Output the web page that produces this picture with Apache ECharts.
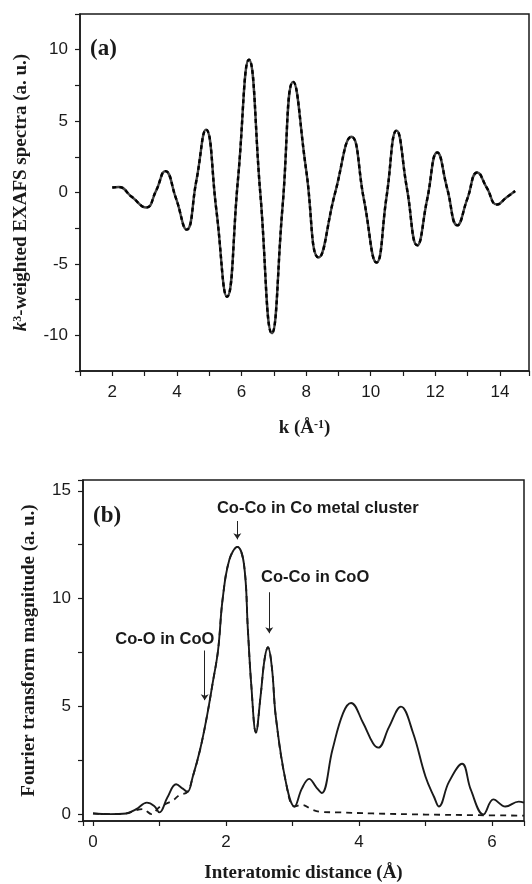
<!DOCTYPE html>
<html>
<head>
<meta charset="utf-8">
<script src="https://cdn.jsdelivr.net/npm/echarts@6/dist/echarts.min.js"></script>
<style>
  html, body { margin: 0; padding: 0; background: #fff; }
  #chart { width: 532px; height: 884px; }
</style>
</head>
<body>
<div id="chart"></div>
<script>
// (a) k3-weighted EXAFS, k in 1/A
const kA = [2.0, 2.2, 2.6, 3.05, 3.35, 3.64, 3.97, 4.3, 4.6, 4.9, 5.22, 5.55, 5.89, 6.23, 6.58, 6.94,
  7.27, 7.6, 8.0, 8.39, 8.9, 9.4, 9.79, 10.18, 10.49, 10.8, 11.12, 11.44, 11.75, 12.06, 12.37,
  12.68, 12.99, 13.3, 13.6, 13.91, 14.2, 14.47];
const chiA = [0.35, 0.38, -0.3, -1.05, 0.1, 1.5, -0.4, -2.6, 0.8, 4.4, -1.2, -7.3, 0.9, 9.3, 0, -9.85,
  -1, 7.75, 1.6, -4.55, 0, 3.9, -0.5, -4.9, -0.3, 4.33, 0.3, -3.7, -0.45, 2.8, 0.25,
  -2.3, -0.45, 1.4, 0.3, -0.84, -0.35, 0.1];

// (b) Fourier transform magnitude, measured (solid)
const rB = [0, 0.25, 0.5, 0.65, 0.81, 0.92, 1.0, 1.12, 1.25, 1.35, 1.42, 1.5, 1.61, 1.71, 1.8, 1.88,
  1.95, 2.05, 2.17, 2.27, 2.33, 2.38, 2.45, 2.52, 2.58, 2.63, 2.69, 2.75, 2.9, 3.03, 3.14, 3.25,
  3.36, 3.44, 3.6, 3.76, 3.88, 4.06, 4.21, 4.29, 4.45, 4.63, 4.81, 5.0, 5.13, 5.2, 5.35, 5.55,
  5.68, 5.87, 6.02, 6.2, 6.4, 6.48];
const ftB = [0.05, 0.02, 0.05, 0.25, 0.55, 0.4, 0.1, 0.8, 1.4, 1.2, 1.05, 1.75, 3.0, 4.5, 6.1, 7.6,
  10.0, 11.8, 12.4, 11.6, 8.5, 6.0, 3.8, 5.5, 7.2, 7.75, 6.8, 4.5, 1.5, 0.37, 1.2, 1.65,
  1.25, 1.0, 3.0, 4.7, 5.17, 4.25, 3.3, 3.1, 4.05, 5.0, 3.8, 1.75, 0.8, 0.37, 1.5, 2.35,
  1.15, 0.0, 0.7, 0.37, 0.6, 0.55];

// (b) fit (dashed)
const rFit = [0, 0.25, 0.5, 0.65, 0.75, 0.88, 1.0, 1.1, 1.2, 1.3, 1.42, 1.5, 1.61, 1.71, 1.8, 1.88,
  1.95, 2.05, 2.17, 2.27, 2.33, 2.38, 2.45, 2.52, 2.58, 2.63, 2.69, 2.75, 2.9, 3.03, 3.14, 3.3,
  3.45, 3.7, 4.2, 5.0, 5.8, 6.48];
const ftFit = [0.05, 0.02, 0.05, 0.2, 0.25, 0.02, 0.35, 0.5, 0.65, 0.9, 1.05, 1.75, 3.0, 4.5, 6.1, 7.6,
  10.0, 11.8, 12.4, 11.6, 8.5, 6.0, 3.8, 5.5, 7.2, 7.75, 6.8, 4.5, 1.5, 0.37, 0.45, 0.22,
  0.12, 0.1, 0.05, 0.0, -0.03, -0.05];

// annotations in (b)
const annoText = ['Co-Co in Co metal cluster', 'Co-Co in CoO', 'Co-O in CoO'];
const annoAt = [[3.38, 14.17], [3.34, 10.98], [1.08, 8.12]];
const arrowR = [2.17, 2.65, 1.68];
const arrowFrom = [13.6, 10.3, 7.6];
const arrowTo = [12.75, 8.4, 5.3];

const pairs = (xs, ys) => xs.map((x, i) => [x, ys[i]]);

const ink = '#1a1a1a';
const serif = '"Liberation Serif", "Times New Roman", serif';
const sans = '"Liberation Sans", Arial, sans-serif';

function axisBase(extra) {
  return Object.assign({
    type: 'value',
    axisLine: { show: true, onZero: false, lineStyle: { color: ink, width: 1.5 } },
    axisTick: { show: true, inside: false, length: 5, lineStyle: { color: ink, width: 1.2 } },
    splitLine: { show: false },
    axisLabel: { color: ink, fontSize: 17, fontFamily: sans }
  }, extra);
}

const nameStyle = {
  fontFamily: serif, fontWeight: 'bold', fontSize: 19, color: ink,
  rich: {
    i: { fontFamily: serif, fontWeight: 'bold', fontStyle: 'italic', fontSize: 19, color: ink },
    s: { fontFamily: serif, fontWeight: 'bold', fontSize: 12, color: ink, verticalAlign: 'top', lineHeight: 19 }
  }
};

const chart = echarts.init(document.getElementById('chart'), null, { renderer: 'canvas' });
chart.setOption({
  animation: false,
  backgroundColor: '#fff',
  grid: [
    { left: 80, top: 14, right: 1, bottom: 513, show: true, borderColor: ink, borderWidth: 1.5 },
    { left: 83, top: 480, right: 8, bottom: 63, show: true, borderColor: ink, borderWidth: 1.5 }
  ],
  xAxis: [
    axisBase({
      gridIndex: 0, min: 1, max: 14.9, interval: 1,
      axisLabel: { color: ink, fontSize: 17, fontFamily: sans, margin: 13,
        formatter: v => (v % 2 === 0 ? String(v) : '') },
      name: 'k (Å{s|-1})', nameLocation: 'middle', nameGap: 48, nameTextStyle: nameStyle
    }),
    axisBase({
      gridIndex: 1, min: -0.15, max: 6.48, minInterval: 1, maxInterval: 1, splitNumber: 7,
      axisLabel: { color: ink, fontSize: 17, fontFamily: sans, margin: 13,
        formatter: v => (Number.isInteger(v) && v % 2 === 0 ? String(v) : '') },
      name: 'Interatomic distance (Å)', nameLocation: 'middle', nameGap: 43, nameTextStyle: nameStyle
    })
  ],
  yAxis: [
    axisBase({
      gridIndex: 0, min: -12.5, max: 12.5, interval: 2.5,
      axisLabel: { color: ink, fontSize: 17, fontFamily: sans, margin: 12,
        formatter: v => (v % 5 === 0 ? String(v) : '') },
      name: '{i|k}{s|3}-weighted EXAFS spectra (a. u.)', nameLocation: 'middle', nameGap: 49,
      nameTextStyle: nameStyle
    }),
    axisBase({
      gridIndex: 1, min: -0.3, max: 15.5, minInterval: 2.5, maxInterval: 2.5,
      axisLabel: { color: ink, fontSize: 17, fontFamily: sans, margin: 12,
        formatter: v => (v % 5 === 0 ? String(v) : '') },
      name: 'Fourier transform magnitude (a. u.)', nameLocation: 'middle', nameGap: 44,
      nameTextStyle: nameStyle
    })
  ],
  graphic: [
    { type: 'text', left: 90, top: 38, style: { text: '(a)', font: 'bold 23px ' + serif, fill: ink } },
    { type: 'text', left: 93, top: 505, style: { text: '(b)', font: 'bold 23px ' + serif, fill: ink } }
  ],
  series: [
    {
      type: 'line', xAxisIndex: 0, yAxisIndex: 0, data: pairs(kA, chiA),
      smooth: 0.5, showSymbol: false, lineStyle: { color: '#444', width: 2.4 }
    },
    {
      type: 'line', xAxisIndex: 0, yAxisIndex: 0, data: pairs(kA, chiA),
      smooth: 0.5, showSymbol: false, lineStyle: { color: '#000', width: 2.4, type: [4, 3] }
    },
    {
      type: 'line', xAxisIndex: 1, yAxisIndex: 1, data: pairs(rFit, ftFit),
      smooth: 0.4, showSymbol: false, lineStyle: { color: ink, width: 1.8, type: [6, 5] }
    },
    {
      type: 'line', xAxisIndex: 1, yAxisIndex: 1, data: pairs(rB, ftB),
      smooth: 0.4, showSymbol: false, lineStyle: { color: ink, width: 1.9 },
      markLine: {
        silent: true, animation: false,
        symbol: ['none', 'arrow'], symbolSize: 6,
        label: { show: false },
        lineStyle: { color: '#222', width: 1, type: 'solid' },
        data: arrowR.map((r, i) => [{ coord: [r, arrowFrom[i]] }, { coord: [r, arrowTo[i]] }])
      },
      markPoint: {
        silent: true, animation: false,
        symbol: 'rect', symbolSize: 0,
        itemStyle: { color: 'transparent' },
        label: { show: true, position: 'inside', formatter: '{b}', color: ink,
          fontFamily: sans, fontWeight: 'bold', fontSize: 16.5 },
        data: annoText.map((t, i) => ({ name: t, coord: annoAt[i] }))
      }
    }
  ]
});
</script>
</body>
</html>
